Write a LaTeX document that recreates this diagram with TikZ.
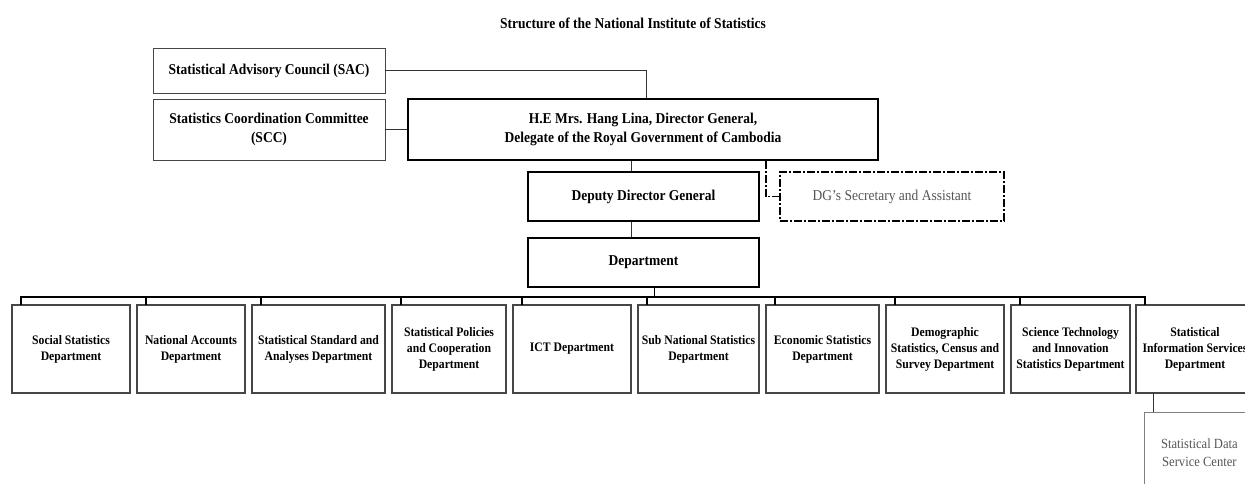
\documentclass[tikz,border=0pt]{standalone}
\usepackage{fontspec}
\setmainfont{Liberation Serif}[FakeStretch=0.9]
\usetikzlibrary{positioning,calc}
\definecolor{boxline}{RGB}{70,70,70}
\definecolor{softtext}{RGB}{85,85,85}

\begin{document}
\begin{tikzpicture}[
  x=1pt, y=-1pt,
  heading/.style={font=\fontsize{15}{18}\selectfont\bfseries},
  council/.style={draw=boxline, line width=0.9pt, align=center, inner sep=2pt, font=\fontsize{15}{19}\selectfont\bfseries},
  chief/.style={draw, line width=1.6pt, align=center, inner sep=2pt, font=\fontsize{15}{19}\selectfont\bfseries},
  dept/.style={draw=boxline, line width=1.2pt, outer sep=0pt, align=center, inner sep=1pt, minimum height=88pt, font=\fontsize{13}{16}\selectfont\bfseries},
  aide/.style={draw, line width=1.5pt, dash pattern=on 8pt off 2pt on 2pt off 2pt, align=center, font=\fontsize{15}{19}\selectfont, text=softtext},
  subunit/.style={draw=gray, line width=0.8pt, align=center, font=\fontsize{14}{18}\selectfont, text=softtext},
  conn/.style={line width=1pt, draw=black!80},
  aideline/.style={line width=1.3pt, dash pattern=on 8pt off 2pt on 2pt off 2pt},
  busline/.style={line width=1.6pt},
  node distance=7pt
]
  \clip (0,0) rectangle (1245,484);

  \node[heading] (title) at (633,23) {Structure of the National Institute of Statistics};
  \node[council, minimum width=232pt, minimum height=45pt] (sac) at (269,70.5) {Statistical Advisory Council (SAC)};
  \node[council, minimum width=232pt, minimum height=61pt] (scc) at (269,129.5) {Statistics Coordination Committee\\(SCC)};
  \node[chief, minimum width=470pt, minimum height=61pt] (dg) at (643,129.5) {H.E Mrs. Hang Lina, Director General,\\Delegate of the Royal Government of Cambodia};
  \node[chief, minimum width=231pt, minimum height=49pt] (ddg) at (643.5,196.5) {Deputy Director General};
  \node[aide, minimum width=224pt, minimum height=49pt] (sec) at (892,196.5) {DG's Secretary and Assistant};
  \node[chief, minimum width=231pt, minimum height=49pt] (dep) at (643.5,262.5) {Department};

  \node[dept, minimum width=118pt, anchor=north west] (d1) at (12,305) {Social Statistics\\Department};
  \node[dept, minimum width=108pt, right=of d1] (d2) {National Accounts\\Department};
  \node[dept, minimum width=133pt, right=of d2] (d3) {Statistical Standard and\\Analyses Department};
  \node[dept, minimum width=114pt, right=of d3] (d4) {Statistical Policies\\and Cooperation\\Department};
  \node[dept, minimum width=118pt, right=of d4] (d5) {ICT Department};
  \node[dept, minimum width=121pt, right=of d5] (d6) {Sub National Statistics\\Department};
  \node[dept, minimum width=113pt, right=of d6] (d7) {Economic Statistics\\Department};
  \node[dept, minimum width=118pt, right=of d7] (d8) {Demographic\\Statistics, Census and\\Survey Department};
  \node[dept, minimum width=119pt, right=of d8] (d9) {Science Technology\\and Innovation\\Statistics Department};
  \node[dept, minimum width=118pt, right=6pt of d9] (d10) {Statistical\\Information Services\\Department};
  \node[subunit, minimum width=110pt, minimum height=80pt, anchor=north west] (sdsc) at (1144,412) {Statistical Data\\Service Center};

  \draw[conn] (sac.east) -| ([xshift=3pt]dg.north);
  \draw[conn] (scc) -- (dg);
  \draw[conn] ([xshift=-12pt]dg.south) -- ([xshift=-12pt]dg.south |- ddg.north);
  \draw[conn] ([xshift=-12pt]ddg.south) -- ([xshift=-12pt]ddg.south |- dep.north);
  \draw[aideline] ([xshift=123pt]dg.south) |- (sec.west);
  \draw[busline] ([xshift=11pt]dep.south) -- ++(0,10);
  \draw[busline] ([xshift=9pt]d1.north west) -- ++(0,-8) -| ([xshift=9pt]d10.north west);
  \foreach \i in {2,...,9}
    \draw[busline] ([xshift=9pt]d\i.north west) -- ++(0,-8);
  \draw[conn] ([xshift=17pt]d10.south west) -- ([xshift=17pt]d10.south west |- sdsc.north);
\end{tikzpicture}
\end{document}
